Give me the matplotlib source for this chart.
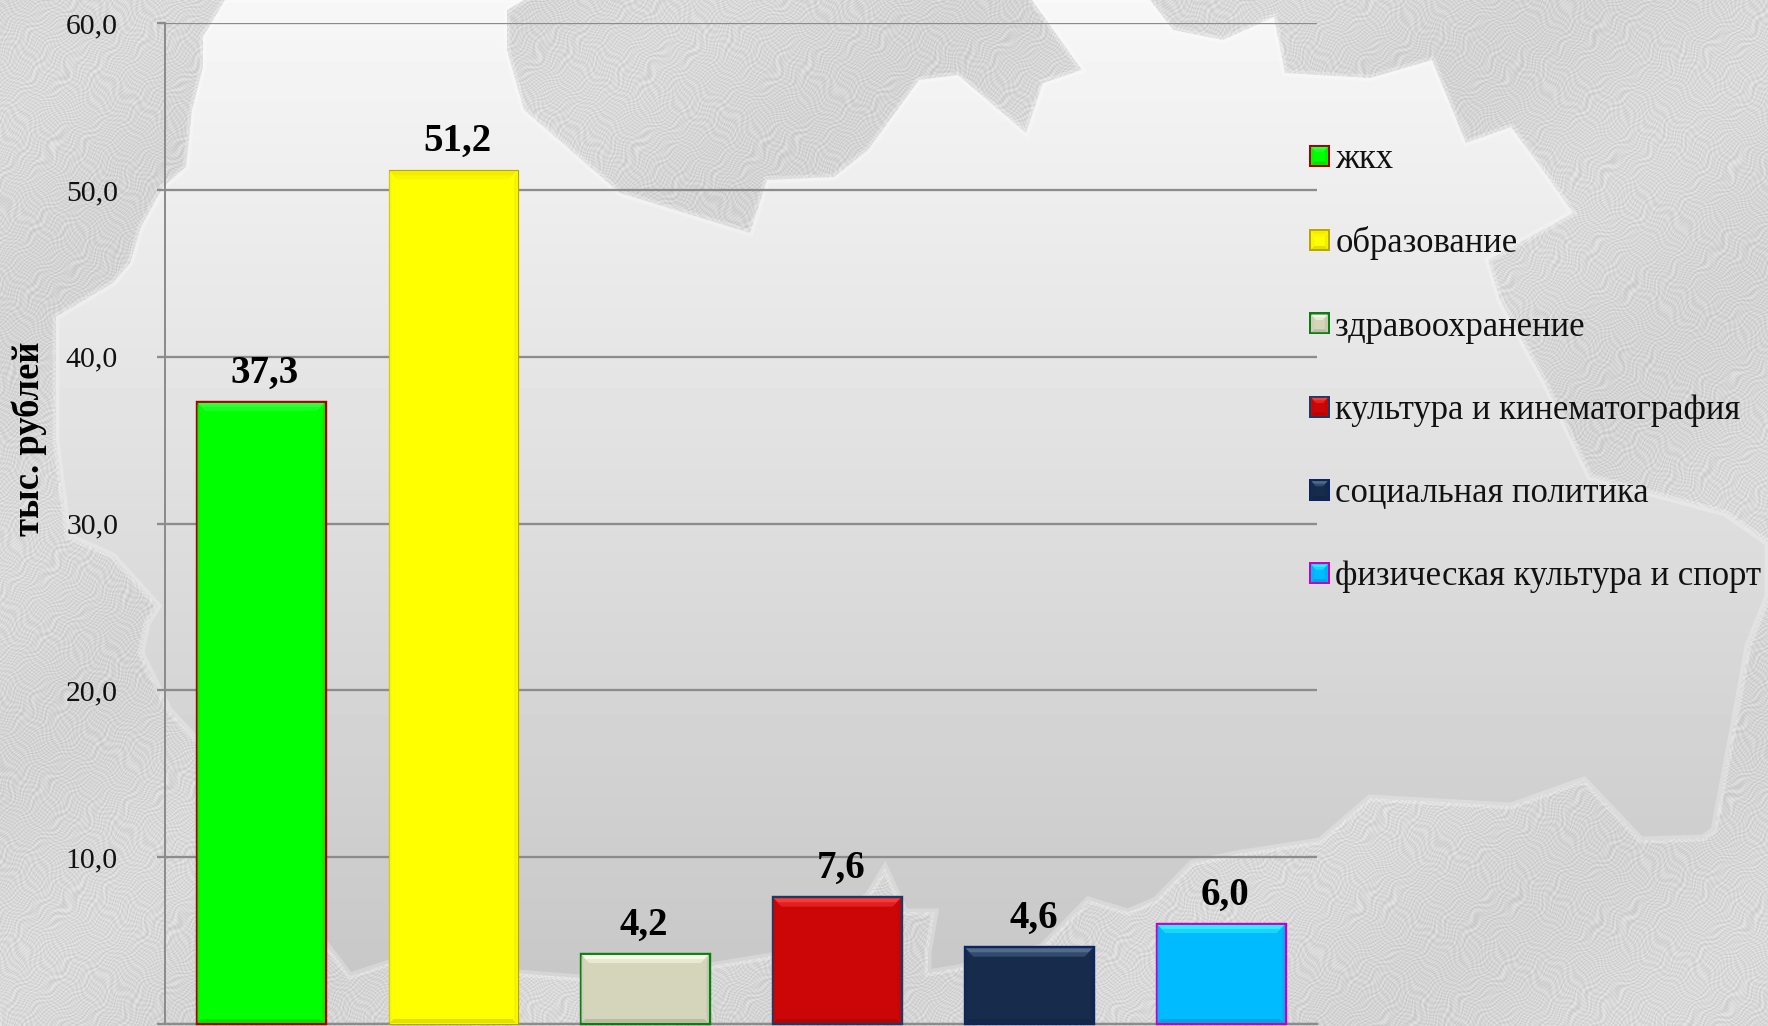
import numpy as np
import matplotlib
matplotlib.use("Agg")
import matplotlib.pyplot as plt
from matplotlib.patches import Polygon, Rectangle
from matplotlib.legend_handler import HandlerBase
from matplotlib.transforms import IdentityTransform
from matplotlib.ticker import FuncFormatter
from matplotlib.colors import to_rgb

categories = ["жкх", "образование", "здравоохранение", "культура и кинематография",
              "социальная политика", "физическая культура и спорт"]
values = [37.3, 51.2, 4.2, 7.6, 4.6, 6.0]
value_labels = ["37,3", "51,2", "4,2", "7,6", "4,6", "6,0"]
yticks = [0, 10, 20, 30, 40, 50, 60]
face_colors = ["#00ff00", "#ffff00", "#d5d5bb", "#cc0606", "#172b4d", "#00bbff"]
edge_colors = ["#a80000", "#b8a800", "#0a7f10", "#1f3864", "#0a2560", "#c400c4"]
edge_widths_px = [2.4, 1.2, 2.4, 2.4, 2.4, 2.4]
top_colors = ["#30ff40", "#f2ec00", "#fbfbec", "#f53c3c", "#4f6c8c", "#30eeff"]
label_dx_px = [4, 4.5, -1, 4.5, 4.5, 4.5]

W, H = 1768, 1026
DPI = 100
PX = 72 / DPI
plt.rcParams["font.family"] = ["Liberation Serif", "DejaVu Serif"]

fig = plt.figure(figsize=(W / DPI, H / DPI), dpi=DPI)

# ---------- decorative background ----------
bg = fig.add_axes([0, 0, 1, 1], zorder=0)
bg.set_axis_off()
yy, xx = np.mgrid[0:H, 0:W].astype(float)
u = xx + 5 * np.sin(yy / 17.0) + 4 * np.sin(xx / 23.0 + yy / 11.0) + 2 * np.sin(yy / 5.3 - xx / 7.1)
v = yy + 5 * np.sin(xx / 19.0) + 4 * np.sin(yy / 13.0 - xx / 29.0) + 2 * np.sin(xx / 4.9 + yy / 8.3)
tex = (np.sin(2 * np.pi * u / 6.1) * np.sin(2 * np.pi * v / 5.3)
       + 0.4 * np.sin(2 * np.pi * (u + v) / 4.1)
       + 0.25 * np.sin(xx / 90.0 + yy / 70.0))
bg.imshow(214 + 11 * tex, cmap="gray", vmin=0, vmax=255, extent=(0, W, H, 0),
          aspect="auto", interpolation="bilinear", zorder=0)

outline_px = [(225, 0), (524, 0), (507, 10), (507, 50), (524, 110), (620, 193), (750, 233), (767, 180),
              (834, 177), (868, 150), (919, 80), (958, 75), (1026, 133), (1043, 83), (1082, 70), (1032, 0),
              (1150, 0), (1173, 30), (1223, 40), (1274, 17), (1285, 73), (1370, 78), (1432, 60),
              (1466, 143), (1511, 127), (1545, 173), (1573, 213), (1488, 260), (1500, 300), (1545, 383),
              (1590, 477), (1725, 513), (1768, 543), (1768, 596), (1748, 646), (1736, 713), (1714, 830),
              (1703, 838), (1641, 840), (1584, 780), (1511, 806), (1370, 798), (1320, 841), (1242, 853),
              (1192, 863), (1156, 900), (1128, 912), (1088, 900), (1042, 947), (958, 968), (928, 973),
              (928, 953), (935, 912), (905, 912), (885, 868), (868, 896), (772, 956), (710, 966), (581, 978),
              (389, 963), (350, 976), (327, 946), (197, 740), (169, 710), (141, 653), (147, 623), (158, 606),
              (113, 556), (68, 536), (56, 440), (56, 317), (113, 283), (130, 263), (141, 227), (163, 187),
              (186, 167), (192, 110), (203, 67), (203, 37)]
grad = 247 - 50 * np.linspace(0, 1, H)[:, None]
im = bg.imshow(grad, cmap="gray", vmin=0, vmax=255, extent=(0, W, H, 0), aspect="auto", zorder=1)
clip = Polygon(outline_px, closed=True, transform=bg.transData, facecolor="none", edgecolor="none")
bg.add_patch(clip)
im.set_clip_path(clip)
bg.add_patch(Polygon(outline_px, closed=True, fill=False, edgecolor="white", alpha=0.25, lw=5, zorder=2))
bg.set_xlim(0, W)
bg.set_ylim(H, 0)

# ---------- chart ----------
ax_left, ax_right, ax_top, ax_bottom = 165, 1317, 23.3, 1024
ax = fig.add_axes([ax_left / W, 1 - ax_bottom / H, (ax_right - ax_left) / W, (ax_bottom - ax_top) / H],
                  zorder=2)
ax.patch.set_alpha(0)
ax.set_xlim(-0.5, 5.5)
ax.set_ylim(0, 60)
ax.set_axisbelow(True)
ax.yaxis.grid(True, color="#8c8c8c", lw=2.3 * PX)
ax.xaxis.grid(False)
ax.set_xticks([])
ax.set_yticks(yticks)
ax.yaxis.set_major_formatter(FuncFormatter(lambda val, _: "" if val == 0 else f"{val:.1f}".replace(".", ",")))
ax.tick_params(axis="y", length=8 * PX, width=2.3 * PX, color="#8c8c8c", pad=39 * PX,
               labelsize=21.4, labelcolor="#111111")
for side in ("top", "right"):
    ax.spines[side].set_visible(False)
ax.spines["left"].set_color("#8c8c8c")
ax.spines["left"].set_linewidth(2 * PX)
ax.spines["bottom"].set_color("#8c8c8c")
ax.spines["bottom"].set_linewidth(2.3 * PX)
ax.set_ylabel("тыс. рублей", fontsize=26.4, fontweight="bold", color="black")
ax.yaxis.set_label_coords((29 - ax_left) / (ax_right - ax_left), (ax_bottom - 438.5) / (ax_bottom - ax_top))
ax.yaxis.label.set_va("center")

BAR_W = 129 / 192


def mix(col, other, t):
    c, o = np.array(to_rgb(col)), np.array(to_rgb(other))
    return tuple(c * (1 - t) + o * t)


def bevel_polys(x0, y0, x1, y1, top, bottom, side):
    """Trapezoids with y increasing upward; 'mid' is the softer inner half of the top band."""
    return {
        "top": [(x0, y1), (x1, y1), (x1 - top, y1 - top), (x0 + top, y1 - top)],
        "mid": [(x0 + top / 2, y1 - top / 2), (x1 - top / 2, y1 - top / 2),
                (x1 - top, y1 - top), (x0 + top, y1 - top)],
        "bottom": [(x0, y0), (x1, y0), (x1 - bottom, y0 + bottom), (x0 + bottom, y0 + bottom)],
        "left": [(x0, y0), (x0 + side, y0 + bottom), (x0 + side, y1 - top), (x0, y1)],
        "right": [(x1, y0), (x1 - side, y0 + bottom), (x1 - side, y1 - top), (x1, y1)],
    }


def bevel_colors(face, top):
    return {"top": to_rgb(top), "mid": mix(top, face, 0.5), "bottom": mix(face, "black", 0.12),
            "left": mix(face, "black", 0.03), "right": mix(face, "black", 0.06)}


bars = []
for i, (cat, val, fc, ec, ew) in enumerate(zip(categories, values, face_colors, edge_colors, edge_widths_px)):
    b = ax.bar(i, val, width=BAR_W, color=fc, edgecolor=ec, linewidth=ew * PX, label=cat, zorder=3,
               clip_on=False)
    bars.append(b[0])
    ax.annotate(value_labels[i], (i, val), xytext=(label_dx_px[i] * PX, 19.5 * PX), textcoords="offset points",
                ha="center", va="baseline", fontsize=28, fontweight="bold", color="black", zorder=5)

fig.canvas.draw()
for rect, fc, tc in zip(bars, face_colors, top_colors):
    ext = rect.get_window_extent()
    polys = bevel_polys(ext.x0 + 1, ext.y0 + 1, ext.x1 - 1, ext.y1 - 1, 8, 4, 2)
    cols = bevel_colors(fc, tc)
    for key, pts in polys.items():
        ax.add_patch(Polygon(pts, closed=True, facecolor=cols[key], edgecolor="none",
                             transform=IdentityTransform(), zorder=4, clip_on=False))


class BevelHandler(HandlerBase):
    top_lookup = dict(zip(face_colors, top_colors))

    def create_artists(self, legend, orig, xdescent, ydescent, width, height, fontsize, trans):
        fc = to_rgb(orig.get_facecolor()[:3])
        ec = to_rgb(orig.get_edgecolor()[:3])
        top = next(t for f, t in self.top_lookup.items() if np.allclose(to_rgb(f), fc))
        x0, y0, x1, y1 = -xdescent, -ydescent, -xdescent + width, -ydescent + height
        arts = [Rectangle((x0, y0), width, height, facecolor=ec, edgecolor="none", transform=trans)]
        b = 2.2 * PX
        arts.append(Rectangle((x0 + b, y0 + b), width - 2 * b, height - 2 * b, facecolor=fc,
                              edgecolor="none", transform=trans))
        polys = bevel_polys(x0 + b, y0 + b, x1 - b, y1 - b, 5 * PX, 3 * PX, 3 * PX)
        cols = bevel_colors(fc, top)
        for key, pts in polys.items():
            arts.append(Polygon(pts, closed=True, facecolor=cols[key], edgecolor="none", transform=trans))
        return arts


fontsize = 24.9
leg = ax.legend(bars, categories, loc="upper left",
                bbox_to_anchor=(1309 / W, 1 - 143 / H), bbox_transform=fig.transFigure,
                frameon=False, fontsize=fontsize, borderaxespad=0, borderpad=0,
                handlelength=15.1 / fontsize, handleheight=15.1 / fontsize, handletextpad=3.8 / fontsize,
                labelspacing=(59.55 - 0.9375 * fontsize) / fontsize,
                handler_map={type(bars[0]): BevelHandler()})
leg.set_zorder(6)
for t in leg.get_texts():
    t.set_color("#111111")

fig.savefig("out.png", dpi=DPI)
